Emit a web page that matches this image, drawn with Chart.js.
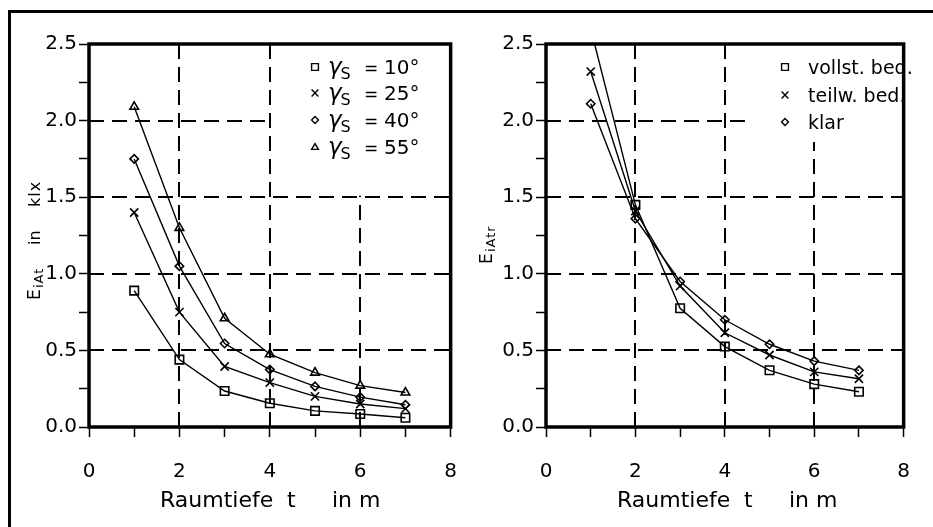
<!DOCTYPE html>
<html lang="de">
<head>
<meta charset="UTF-8">
<title>Innenbeleuchtungsstärke über Raumtiefe</title>
<script src="https://cdn.jsdelivr.net/npm/chart.js"></script>
<style>
  body { margin: 0; background: #fff; width: 933px; height: 527px; overflow: hidden; position: relative; }
  .frame { position: absolute; left: 8px; top: 10px; width: 960px; height: 560px;
           border-top: 3px solid #000; border-left: 3px solid #000; }
  canvas { position: absolute; top: 0; }
  #cLeft { left: 0; }
  #cRight { left: 470px; }
</style>
</head>
<body>
<div class="frame"></div>
<canvas id="cLeft" width="480" height="527"></canvas>
<canvas id="cRight" width="463" height="527"></canvas>

<script>
// Raumtiefe t in m
const depth = [1, 2, 3, 4, 5, 6, 7];

// left panel: E_iAt in klx for solar altitudes
const sun10 = [0.89, 0.44, 0.235, 0.155, 0.105, 0.085, 0.06];
const sun25 = [1.40, 0.75, 0.395, 0.29, 0.20, 0.15, 0.12];
const sun40 = [1.75, 1.05, 0.545, 0.375, 0.265, 0.195, 0.145];
const sun55 = [2.09, 1.30, 0.71, 0.475, 0.355, 0.27, 0.225];
const sunLabels = ['10°', '25°', '40°', '55°'];

// right panel: E_iAtr for sky conditions
const skyFull = [2.60, 1.45, 0.775, 0.525, 0.37, 0.28, 0.23];
const skyPart = [2.32, 1.41, 0.92, 0.615, 0.47, 0.36, 0.315];
const skyClear = [2.11, 1.36, 0.95, 0.70, 0.54, 0.43, 0.37];
const skyLabels = ['vollst. bed.', 'teilw. bed.', 'klar'];

// axes
const xLabelValues = [0, 2, 4, 6, 8];
const yLabelValues = [0, 0.5, 1.0, 1.5, 2.0, 2.5];
const gridX = [2, 4, 6];
const gridY = [0.5, 1.0, 1.5, 2.0];

const FONT = 'DejaVu Sans';
const marks = ['rect', 'crossRot', 'rectRot', 'triangle'];
const markRadius = { rect: 6, crossRot: 5.8, rectRot: 4.2, triangle: 5 };

function legendMark(ctx, style, x, y, r) {
  ctx.beginPath();
  if (style === 'rect') {
    ctx.rect(x - r, y - r, 2 * r, 2 * r);
  } else if (style === 'crossRot') {
    ctx.moveTo(x - r, y - r); ctx.lineTo(x + r, y + r);
    ctx.moveTo(x - r, y + r); ctx.lineTo(x + r, y - r);
  } else if (style === 'rectRot') {
    ctx.moveTo(x - r, y); ctx.lineTo(x, y - r); ctx.lineTo(x + r, y); ctx.lineTo(x, y + r); ctx.closePath();
  } else {
    ctx.moveTo(x, y - r); ctx.lineTo(x + r, y + r * 0.7); ctx.lineTo(x - r, y + r * 0.7); ctx.closePath();
  }
  ctx.stroke();
}

// dashed grid, blank legend field, frame, legend and titles (config kept in closure)
function panelPlugin(cfg) {
  return {
    id: 'panel',
    beforeDatasetsDraw(chart) {
      const { ctx, chartArea: a, scales: { x, y } } = chart;
      ctx.save();
      ctx.strokeStyle = '#000';
      ctx.lineWidth = 2;
      ctx.setLineDash([15, 8]);
      gridY.forEach(v => {
        const py = Math.round(y.getPixelForValue(v));
        ctx.beginPath(); ctx.moveTo(a.left, py); ctx.lineTo(a.right, py); ctx.stroke();
      });
      gridX.forEach(v => {
        const px = Math.round(x.getPixelForValue(v));
        ctx.beginPath(); ctx.moveTo(px, a.bottom); ctx.lineTo(px, a.top); ctx.stroke();
      });
      ctx.setLineDash([]);
      const bx = x.getPixelForValue(cfg.blankX) + 1.5;
      const by = y.getPixelForValue(cfg.blankY) - 1.5;
      ctx.fillStyle = '#fff';
      ctx.fillRect(bx, a.top, a.right - bx, by - a.top);
      ctx.restore();
    },
    afterDatasetsDraw(chart) {
      const { ctx, chartArea: a } = chart;
      ctx.save();
      ctx.strokeStyle = '#000';
      ctx.lineWidth = 3.5;
      ctx.strokeRect(a.left, a.top, a.right - a.left, a.bottom - a.top);
      ctx.restore();
    },
    afterDraw(chart) {
      const { ctx, chartArea: a } = chart;
      ctx.save();
      ctx.fillStyle = '#000';
      ctx.strokeStyle = '#000';
      ctx.textBaseline = 'alphabetic';

      // legend
      cfg.legend.forEach((text, i) => {
        const cy = a.top + cfg.legendRows[i];
        ctx.lineWidth = 1.4;
        legendMark(ctx, marks[i], a.left + cfg.markX, cy, 3.4);
        if (cfg.gamma) {
          let tx = a.left + cfg.textX;
          ctx.font = `italic 23px ${FONT}`;
          ctx.fillText('γ', tx, cy + 7);
          tx += ctx.measureText('γ').width - 1;
          ctx.font = `16px ${FONT}`;
          ctx.fillText('S', tx, cy + 12);
          ctx.font = `17px ${FONT}`;
          ctx.fillText('=', a.left + cfg.textX + 36, cy + 7);
          ctx.font = `20px ${FONT}`;
          ctx.fillText(text, a.left + cfg.textX + 56, cy + 7);
        } else {
          ctx.font = `19px ${FONT}`;
          ctx.fillText(text, a.left + cfg.textX, cy + 7);
        }
      });

      // x title
      ctx.font = `22px ${FONT}`;
      const ty = 507;
      ctx.fillText('Raumtiefe', a.left + 71, ty);
      ctx.fillText('t', a.left + 198, ty);
      ctx.fillText('in', a.left + 243, ty);
      ctx.fillText('m', a.left + 270, ty);

      // y title, rotated, pieces placed along the axis
      cfg.yTitle.forEach(p => {
        ctx.save();
        ctx.translate(cfg.yTitleX + p.shift, p.from);
        ctx.rotate(-Math.PI / 2);
        ctx.font = `${p.size}px ${FONT}`;
        ctx.letterSpacing = p.spacing + 'px';
        ctx.fillText(p.text, 0, 0);
        ctx.restore();
      });
      ctx.restore();
    }
  };
}

function series(values, i) {
  return {
    data: depth.map((t, k) => ({ x: t, y: values[k] })),
    borderColor: '#000',
    borderWidth: 1.4,
    pointStyle: marks[i],
    pointRadius: markRadius[marks[i]],
    pointBorderWidth: 1.6,
    pointBorderColor: '#000',
    pointBackgroundColor: 'rgba(0,0,0,0)',
    tension: 0,
    clip: 1
  };
}

function makeChart(id, datasets, yWidth, padRight, cfg) {
  return new Chart(document.getElementById(id), {
    type: 'line',
    data: { datasets },
    plugins: [panelPlugin(cfg)],
    options: {
      responsive: false,
      animation: false,
      layout: { padding: { top: 44, right: padRight, left: 0, bottom: 0 } },
      plugins: { legend: { display: false }, tooltip: { enabled: false } },
      scales: {
        x: {
          type: 'linear', min: 0, max: 8,
          afterFit: s => { s.height = 100; },
          border: { display: false },
          grid: { drawOnChartArea: false, drawTicks: true, tickLength: 10, tickColor: '#000', tickWidth: 1.5 },
          ticks: {
            stepSize: 1, autoSkip: false, maxRotation: 0, padding: 23, color: '#000',
            font: { family: FONT, size: 20 },
            callback: v => xLabelValues.includes(v) ? String(v) : ''
          }
        },
        y: {
          min: 0, max: 2.5,
          afterFit: s => { s.width = yWidth; },
          border: { display: false },
          grid: { drawOnChartArea: false, drawTicks: true, tickLength: 10, tickColor: '#000', tickWidth: 1.5 },
          ticks: {
            stepSize: 0.25, autoSkip: false, padding: 2, color: '#000',
            font: { family: FONT, size: 20 },
            callback: v => yLabelValues.some(l => Math.abs(l - v) < 1e-6) ? v.toFixed(1) : ''
          }
        }
      }
    }
  });
}

makeChart('cLeft', [sun10, sun25, sun40, sun55].map(series), 89, 19, {
  blankX: 4, blankY: 1.5,
  legend: sunLabels,
  legendRows: [23, 49, 76, 103],
  markX: 226, textX: 239, gamma: true,
  yTitleX: 40,
  yTitle: [
    { text: 'E', size: 17, from: 300, shift: 0, spacing: 0 },
    { text: 'iAt', size: 13, from: 288, shift: 3, spacing: 1 },
    { text: 'in', size: 16, from: 245, shift: 0, spacing: 0 },
    { text: 'klx', size: 16, from: 207, shift: 0, spacing: 1 }
  ]
});

makeChart('cRight', [skyFull, skyPart, skyClear].map(series), 76, 10, {
  blankX: 4.55, blankY: 1.85,
  legend: skyLabels,
  legendRows: [23, 51, 78],
  markX: 239, textX: 262, gamma: false,
  yTitleX: 22,
  yTitle: [
    { text: 'E', size: 17, from: 264, shift: 0, spacing: 0 },
    { text: 'iAtr', size: 13, from: 252, shift: 3, spacing: 1 }
  ]
});
</script>
</body>
</html>
